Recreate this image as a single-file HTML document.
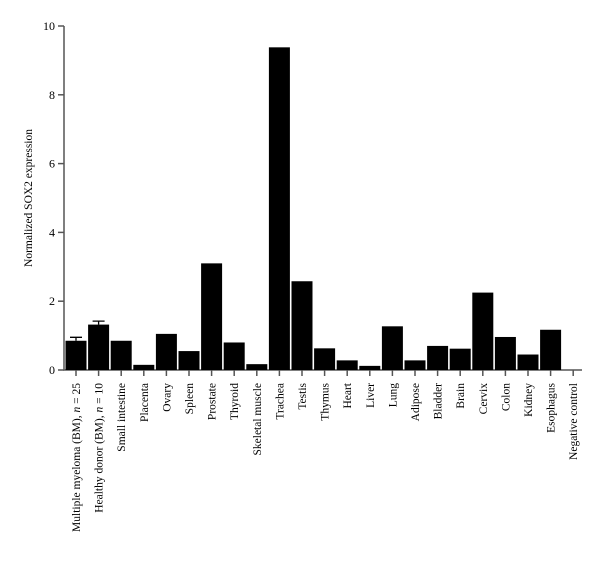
<!DOCTYPE html>
<html><head><meta charset="utf-8"><style>body{margin:0;background:#fff}svg text{font-family:"Liberation Serif",serif;fill:#000}</style></head>
<body>
<svg id="c" width="600" height="568"></svg>
<script>
const categories=["Multiple myeloma (BM), <i>n</i> = 25","Healthy donor (BM), <i>n</i> = 10","Small intestine","Placenta","Ovary","Spleen","Prostate","Thyroid","Skeletal muscle","Trachea","Testis","Thymus","Heart","Liver","Lung","Adipose","Bladder","Brain","Cervix","Colon","Kidney","Esophagus","Negative control"];
const values=[0.85,1.32,0.85,0.15,1.05,0.55,3.1,0.8,0.17,9.38,2.58,0.63,0.28,0.12,1.27,0.28,0.7,0.62,2.25,0.96,0.45,1.17,0];
const errors=[0.95,1.42,null,null,null,null,null,null,null,null,null,null,null,null,null,null,null,null,null,null,null,null,null];
const yTicks=[0,2,4,6,8,10];
const NS="http://www.w3.org/2000/svg",svg=document.getElementById('c');
const y0=370,ppu=34.4,axX=64,x0=76,step=22.6,bw=21;
const y=v=>y0-v*ppu, x=i=>x0+i*step;
function mk(t,a,p){const e=document.createElementNS(NS,t);for(const k in a)e.setAttribute(k,a[k]);(p||svg).appendChild(e);return e;}
const ax=mk('path',{d:`M${axX},${y(10)}V${y0}H582`,stroke:'#555',fill:'none','stroke-width':1.5});


yTicks.forEach(t=>{
 const l=mk('line',{x1:axX-6,x2:axX,y1:y(t),y2:y(t),stroke:'#555','stroke-width':1.5});
 
 
 const tx=mk('text',{x:axX-9,y:y(t)+4,'text-anchor':'end','font-size':12});
 tx.textContent=t;
 
 
});
values.forEach((v,i)=>{
 const cx=x(i);
 if(v>0){const r=mk('rect',{x:cx-bw/2,y:y(v),width:bw,height:y0-y(v),fill:'#000'});
 
 }
 if(errors[i]!=null){const e=mk('path',{d:`M${cx},${y(v)}V${y(errors[i])}M${cx-6},${y(errors[i])}H${cx+6}`,stroke:'#000','stroke-width':1.3,fill:'none'});
 
 }
 const tk=mk('line',{x1:cx,x2:cx,y1:y0,y2:y0+6,stroke:'#555','stroke-width':1.5});
 
 
 const t=mk('text',{transform:`translate(${cx+4},383) rotate(-90)`,'text-anchor':'end','font-size':11.5});
 t.innerHTML=categories[i].replace(/<i>n<\/i>/g,'<tspan font-style="italic">n</tspan>');
 
 
});
const yt=mk('text',{transform:'translate(32,198) rotate(-90)','text-anchor':'middle','font-size':11.5});
yt.textContent='Normalized SOX2 expression';


</script>
</body></html>
